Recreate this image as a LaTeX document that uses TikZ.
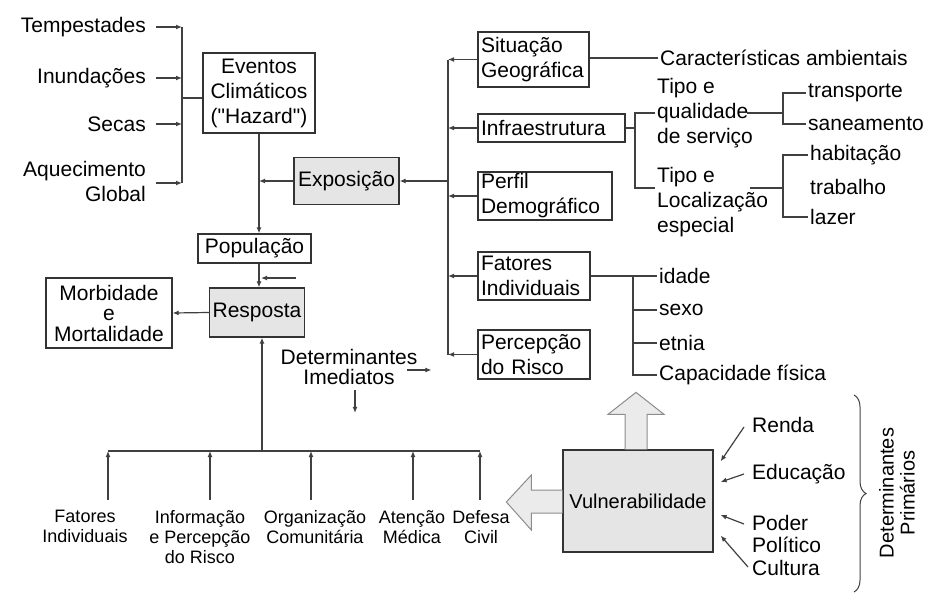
\documentclass[tikz,border=0pt]{standalone}
\usepackage{fontspec}
\setmainfont{Liberation Sans}
\usepackage{tikz}
\usetikzlibrary{arrows.meta, positioning, calc, decorations.pathreplacing}

\newcommand{\fnorm}{\fontsize{21}{25}\selectfont}
\newcommand{\fbot}{\fontsize{18}{20}\selectfont}

\tikzset{
  box/.style={draw=black!80, line width=1.3pt, inner xsep=3pt, inner ysep=1pt},
  shaded/.style={box, fill=black!10},
  lbl/.style={inner sep=2pt},
  conn/.style={draw=black!75, line width=1.2pt},
  arr/.style={conn, -{Latex[length=6pt,width=5pt]}},
  blockarr/.style={draw=black!45, fill=black!8, line width=1pt, line join=miter}
}

\begin{document}
\begin{tikzpicture}[x=1pt, y=-1pt, font=\fnorm]
    \useasboundingbox (0,0) rectangle (933,594);

    % Eventos climaticos
    \node[lbl, anchor=east] (tempest) at (148,27) {Tempestades};
    \node[lbl, anchor=east] (inund) at (148,78) {Inundações};
    \node[lbl, anchor=east] (secas) at (148,124) {Secas};
    \node[lbl, anchor=east, align=right] (aquec) at (148,181) {Aquecimento\\Global};
    \coordinate (hzbar) at (182,0);
    \node[box, minimum width=112pt, minimum height=80pt, align=center] (eventos) at (259,93) {Eventos\\Climáticos\\(\textquotedbl Hazard\textquotedbl)};

    \draw[arr, shorten <=8pt] (tempest.east) -- (tempest.east -| hzbar);
    \draw[arr, shorten <=8pt] (inund.east) -- (inund.east -| hzbar);
    \draw[arr, shorten <=8pt] (secas.east) -- (secas.east -| hzbar);
    \draw[arr, shorten <=8pt] ([yshift=-2pt]aquec.east) -- ([yshift=-2pt]aquec.east -| hzbar);
    \draw[conn] (tempest.east -| hzbar) -- ([yshift=-2pt]aquec.east -| hzbar);
    \draw[conn] ([yshift=-5pt]eventos.west) -- ([yshift=-5pt]eventos.west -| hzbar);

    % Populacao e resposta
    \node[box, minimum width=113pt, minimum height=29pt] (populacao) at (254.5,248.5) {População};
    \node[shaded, minimum width=105pt, minimum height=47pt] (exposicao) at (346.5,181) {Exposição};
    \node[shaded, minimum width=94pt, minimum height=49pt] (resposta) at (257,312.5) {Resposta};
    \node[box, minimum width=126pt, minimum height=70pt, align=center, font=\fontsize{21}{20.5}\selectfont] (morbidade) at (109,313) {Morbidade\\e\\Mortalidade};

    \draw[arr] (eventos.south) -- (eventos.south |- populacao.north);
    \draw[arr] (exposicao.west) -- (exposicao.west -| eventos.south);
    \draw[arr] (eventos.south |- populacao.south) -- (eventos.south |- resposta.north);
    \coordinate (stub) at (296,278);
    \draw[arr, shorten >=2pt] (stub) -- (stub -| eventos.south);
    \draw[arr] (resposta.west) -- (morbidade.east);

    % Exposicao: fatores
    \coordinate (rbar) at (448,0);
    \node[box, text width=105pt, minimum height=55pt, align=left] (situacao) at (533.5,59.5) {Situação\\Geográfica};
    \node[box, text width=141pt, minimum height=28pt, align=left] (infra) at (551.5,128) {Infraestrutura};
    \node[box, text width=128pt, minimum height=48pt, align=left] (perfil) at (545,196) {Perfil\\Demográfico};
    \node[box, text width=106pt, minimum height=48pt, align=left] (fatores) at (534,276) {Fatores\\Individuais};
    \node[box, text width=106pt, minimum height=49pt, align=left] (percepcao) at (534,354.5) {Percepção\\do Risco};

    \draw[conn] (situacao.west -| rbar) -- (percepcao.west -| rbar);
    \draw[arr] (situacao.west) -- (situacao.west -| rbar);
    \draw[arr] (infra.west) -- (infra.west -| rbar);
    \draw[arr] (perfil.west) -- (perfil.west -| rbar);
    \draw[arr] (fatores.west) -- (fatores.west -| rbar);
    \draw[arr] (percepcao.west) -- (percepcao.west -| rbar);
    \draw[arr] (exposicao.east -| rbar) -- (exposicao.east);

    % Situacao
    \node[lbl, anchor=west] (caract) at (658,58) {Características ambientais};
    \draw[conn] (situacao.east |- caract.west) -- (caract.west);

    % Infraestrutura
    \coordinate (infrajoin) at (635,128);
    \node[lbl, anchor=west, align=left] (tipoqual) at (655,113) {Tipo e\\qualidade\\de serviço};
    \node[lbl, anchor=west, align=left] (tipoloc) at (655,202) {Tipo e\\Localização\\especial};
    \draw[conn] (infra.east) -- (infrajoin);
    \draw[conn] (tipoqual.west) -| (infrajoin) |- ([yshift=14pt]tipoloc.west);

    \coordinate (qjoin) at (783,113);
    \node[lbl, anchor=west] (transp) at (806,93) {transporte};
    \node[lbl, anchor=west] (saneam) at (806,124) {saneamento};
    \draw[conn] ([xshift=-8pt]tipoqual.east) -- (qjoin);
    \draw[conn] (transp.west) -| (qjoin) |- (saneam.west);

    \coordinate (ljoin) at (783,188);
    \coordinate (lstub) at (750,188);
    \node[lbl, anchor=west] (habit) at (808,155) {habitação};
    \node[lbl, anchor=west] (trab) at (808,187) {trabalho};
    \node[lbl, anchor=west] (lazer) at (808,217) {lazer};
    \draw[conn] (lstub) -- (ljoin);
    \draw[conn] (habit.west) -| (ljoin) |- (lazer.west);

    % Fatores individuais
    \coordinate (fjoin) at (633,276);
    \node[lbl, anchor=west] (idade) at (657,276) {idade};
    \node[lbl, anchor=west] (sexo) at (657,310) {sexo};
    \node[lbl, anchor=west] (etnia) at (657,343) {etnia};
    \node[lbl, anchor=west] (capac) at (657,375) {Capacidade física};
    \draw[conn] (fatores.east) -- (idade.west);
    \draw[conn] (fjoin) |- (capac.west);
    \draw[conn] (fjoin |- sexo.west) -- (sexo.west);
    \draw[conn] (fjoin |- etnia.west) -- (etnia.west);

    % Determinantes imediatos
    \node[lbl, align=center, font=\fontsize{21}{20}\selectfont] (detim) at (349,367) {Determinantes\\Imediatos};
    \draw[arr] ([xshift=-12pt, yshift=-3pt]detim.east) -- ++(24,0);
    \draw[arr] ([xshift=6pt, yshift=-3pt]detim.south) -- ++(0,23);

    % Resposta: determinantes
    \coordinate (b1) at (108,451);
    \coordinate (b2) at (210,451);
    \coordinate (b3) at (311,451);
    \coordinate (b4) at (413,451);
    \coordinate (b5) at (480,451);
    \coordinate (rbot) at (262,451);
    \node[lbl, anchor=north, align=center, font=\fbot] (fatbot) at (85,508) {Fatores\\Individuais};
    \node[lbl, anchor=north, align=center, font=\fbot] (infobot) at (200,508) {Informação\\e Percepção\\do Risco};
    \node[lbl, anchor=north, align=center, font=\fbot] (orgbot) at (315,508) {Organização\\Comunitária};
    \node[lbl, anchor=north, align=center, font=\fbot] (atenbot) at (412,508) {Atenção\\Médica};
    \node[lbl, anchor=north, align=center, font=\fbot] (defbot) at (481,508) {Defesa\\Civil};

    \draw[conn] (b1) -- (b5);
    \draw[arr] (rbot) -- (rbot |- resposta.south);
    \draw[arr, shorten <=8pt] (b1 |- fatbot.north) -- (b1);
    \draw[arr, shorten <=8pt] (b2 |- infobot.north) -- (b2);
    \draw[arr, shorten <=8pt] (b3 |- orgbot.north) -- (b3);
    \draw[arr, shorten <=8pt] (b4 |- atenbot.north) -- (b4);
    \draw[arr, shorten <=8pt] (b5 |- defbot.north) -- (b5);

    % Vulnerabilidade
    \node[shaded, minimum width=150pt, minimum height=102pt, font=\fontsize{20}{24}\selectfont] (vulner) at (638,501) {Vulnerabilidade};
    \draw[blockarr] ([xshift=-13pt]vulner.north) -- ++(0,-35) -- ++(-17,0) -- ++(28,-22) -- ++(28,22) -- ++(-17,0) -- ++(0,35);
    \draw[blockarr] ([yshift=11pt]vulner.west) -- ++(-31,0) -- ++(0,-15) -- ++(-25,27) -- ++(25,28) -- ++(0,-17) -- ++(31,0);

    % Determinantes primarios
    \node[lbl, anchor=west] (renda) at (750,425) {Renda};
    \node[lbl, anchor=west] (educ) at (750,474) {Educação};
    \node[lbl, anchor=west, align=left, font=\fontsize{21}{22.5}\selectfont] (poder) at (750,534) {Poder\\Político};
    \node[lbl, anchor=west] (cultura) at (750,568) {Cultura};
    \draw[arr] ([xshift=-6pt, yshift=-2pt]renda.west) -- ([xshift=7pt, yshift=-12pt]vulner.north east);
    \draw[arr] ([xshift=-6pt]educ.west) -- ([xshift=7pt, yshift=19pt]vulner.east);
    \draw[arr] ([xshift=-6pt, yshift=10pt]poder.west) -- ([xshift=7pt, yshift=-14pt]vulner.east);
    \draw[arr] ([xshift=-2pt, yshift=1pt]cultura.west) -- ([xshift=7pt, yshift=17pt]vulner.south east);

    \coordinate (brtop) at (854,395);
    \coordinate (brbot) at (854,592);
    \draw[conn, line width=1pt, decorate, decoration={brace, amplitude=12pt}] (brtop) -- (brbot);
    \node[lbl, rotate=90, align=center, font=\fontsize{20}{21}\selectfont] (detprim) at (897,493) {Determinantes\\Primários};
\end{tikzpicture}
\end{document}
